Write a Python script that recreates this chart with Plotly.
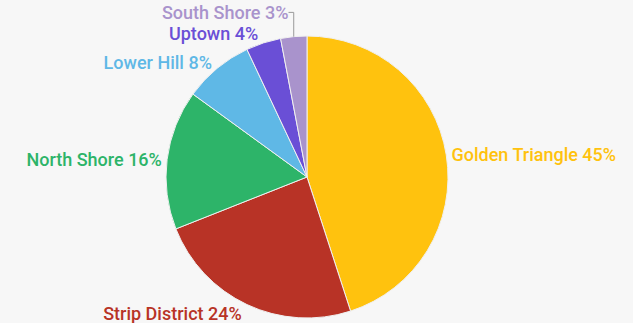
import plotly.graph_objects as go

# neighbourhood share (%)
neighbourhoods = ["Golden Triangle", "Strip District", "North Shore", "Lower Hill", "Uptown", "South Shore"]
shares = [45, 24, 16, 8, 4, 3]
colors = ["#FFC20E", "#B83326", "#2DB469", "#5FB8E6", "#6A4FD6", "#A993CC"]

fig = go.Figure(go.Pie(
    labels=neighbourhoods,
    values=shares,
    sort=False,
    direction="clockwise",
    rotation=0,
    automargin=False,
    marker=dict(colors=colors, line=dict(color="#f0f0f0", width=1)),
    texttemplate="%{label} %{value}%",
    textposition="outside",
    textfont=dict(family="Roboto", size=18, color=colors, weight=500),
    showlegend=False,
    hoverinfo="label+percent",
))

fig.update_layout(
    width=633, height=323,
    margin=dict(l=0, r=19, t=36, b=5, autoexpand=False),
    paper_bgcolor="#f7f7f7",
    plot_bgcolor="#f7f7f7",
)

# no page margin, grey leader lines like the original
extra_js = """
document.body.style.margin = '0';
document.body.style.background = '#f7f7f7';
var gd = document.getElementsByClassName('plotly-graph-div')[0];
function greyLines(){
  gd.querySelectorAll('path.textline').forEach(function(p){
    p.style.stroke = '#9a9a9a'; p.style.strokeWidth = '1px';
  });
}
greyLines();
gd.on('plotly_afterplot', greyLines);
"""

fig.write_html("out.html", post_script=extra_js, config={"displayModeBar": False})
